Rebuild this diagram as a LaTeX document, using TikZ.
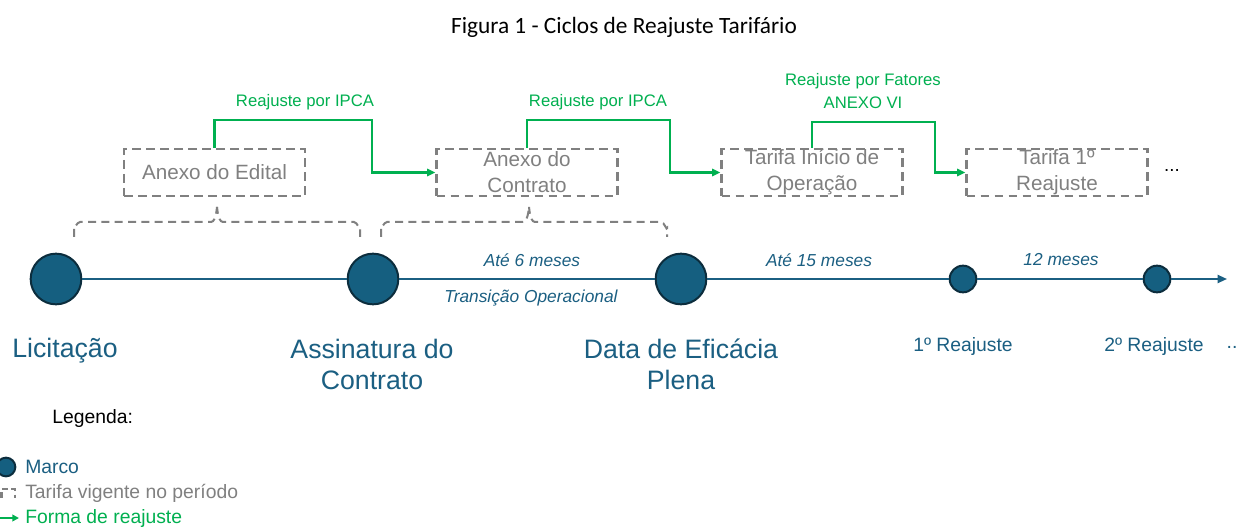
\documentclass[tikz,border=0pt]{standalone}
\usepackage{fontspec}
\setmainfont{Liberation Sans}
\newfontfamily\titlefont{Carlito}
\usetikzlibrary{arrows.meta}
\definecolor{tealtxt}{HTML}{1B5F82}
\definecolor{circfill}{HTML}{155F80}
\definecolor{circedge}{HTML}{0C2D3D}
\definecolor{grn}{HTML}{00B050}
\definecolor{gry}{HTML}{808080}
\begin{document}
\begin{tikzpicture}[x=0.75pt,y=-0.75pt,
  tarifa/.style={draw=gry, line width=1.9pt, dash pattern=on 6.5pt off 4pt,
    minimum width=135.75pt, minimum height=35.25pt, inner sep=0pt,
    text=gry, font=\fontsize{15.5}{19.5}\selectfont, align=center},
  brace/.style={draw=gry, line width=1.5pt, dash pattern=on 6pt off 4pt},
  reaj/.style={draw=grn, line width=1.6pt, -{Triangle[length=6pt,width=5.5pt]}},
  greentxt/.style={text=grn, font=\fontsize{12.5}{16}\selectfont, inner sep=0pt},
  marco/.style={circle, fill=circfill, draw=circedge, line width=1.5pt, inner sep=0pt},
  bigmarco/.style={marco, minimum size=38pt},
  smallmarco/.style={marco, minimum size=20pt},
  period/.style={text=tealtxt, font=\fontsize{13}{16}\selectfont\itshape, inner sep=0pt},
  biglabel/.style={text=tealtxt, font=\fontsize{20}{23}\selectfont, align=center, inner sep=0pt},
  smalllabel/.style={text=tealtxt, font=\fontsize{14.5}{17}\selectfont, inner sep=0pt},
  legtxt/.style={font=\fontsize{14.5}{17}\selectfont, inner sep=0pt, anchor=west}
]
\useasboundingbox[fill=white] (0,0) rectangle (1238,527);

% title
\node[font=\titlefont\fontsize{17.5}{20}\selectfont, inner sep=0pt] (title) at (624,27) {Figura 1 - Ciclos de Reajuste Tarifário};

% tariff boxes
\node[tarifa] (edital) at (214.5,172.5) {Anexo do Edital};
\node[tarifa] (contrato) at (527,172.5) {Anexo do\\Contrato};
\node[tarifa] (inicio) at (812,172.5) {Tarifa Início de\\Operação};
\node[tarifa] (primeiro) at (1057,172.5) {Tarifa 1º\\Reajuste};
\node[inner sep=0pt, font=\fontsize{14}{16}\selectfont] (dots) at (1172,171) {...};

% green adjustment arrows
\coordinate (g1) at (372,120);
\coordinate (g2) at (670,120);
\coordinate (g3) at (935,122);
\draw[reaj] (edital.north) |- (g1) |- (contrato.west);
\draw[reaj] (contrato.north) |- (g2) |- (inicio.west);
\draw[reaj] (inicio.north) |- (g3) |- (primeiro.west);
\node[greentxt] (l1) at (305,102) {Reajuste por IPCA};
\node[greentxt] (l2) at (598,102) {Reajuste por IPCA};
\node[greentxt] (l3a) at (863,81) {Reajuste por Fatores};
\node[greentxt] (l3b) at (863,103) {ANEXO VI};

% braces
\draw[brace] (74,237) -- (74,227) to[out=-90,in=180] (80,222) -- (211,222) to[out=0,in=90] (217,208);
\draw[brace] (217,208) to[out=90,in=180] (223,222) -- (354,222) to[out=0,in=-90] (360,228) -- (360,237);
\draw[brace] (381,237) -- (381,227) to[out=-90,in=180] (387,222) -- (523,222) to[out=0,in=90] (529,208);
\draw[brace] (529,208) to[out=90,in=180] (535,222) -- (661,222) to[out=0,in=-90] (667,228) -- (667,237);

% timeline
\node[bigmarco] (licit) at (56,279) {};
\node[bigmarco] (assin) at (373,279) {};
\node[bigmarco] (efic) at (681,279) {};
\node[smallmarco] (r1) at (963,279) {};
\node[smallmarco] (r2) at (1157,279) {};
\coordinate (tend) at (1227,279);
\draw[tealtxt, line width=1.5pt] (licit) -- (assin);
\draw[tealtxt, line width=1.5pt] (assin) -- (efic);
\draw[tealtxt, line width=1.5pt] (efic) -- (r1);
\draw[tealtxt, line width=1.5pt] (r1) -- (r2);
\draw[tealtxt, line width=1.5pt, -{Triangle[length=7pt,width=6pt]}] (r2) -- (tend);

% period labels
\node[period] (p1) at (532,260) {Até 6 meses};
\node[period] (p1b) at (531,298) {Transição Operacional};
\node[period] (p2) at (819,260) {Até 15 meses};
\node[period] (p3) at (1061,260) {12 meses};

% milestone labels
\node[biglabel] (tl1) at (65,351) {Licitação};
\node[biglabel, anchor=north] (tl2) at (372,339) {Assinatura do\\Contrato};
\node[biglabel, anchor=north] (tl3) at (681,339) {Data de Eficácia\\Plena};
\node[smalllabel] (tl4) at (963,347) {1º Reajuste};
\node[smalllabel] (tl5) at (1154,347) {2º Reajuste};
\node[smalllabel] (tl6) at (1232,347) {..};

% legend
\node[legtxt] (leg) at (52,418) {Legenda:};
\node[marco, minimum size=14pt] (legc) at (6,467) {};
\node[legtxt, text=tealtxt] (legm) at (25,467) {Marco};
\draw[brace, dash pattern=on 4.5pt off 2.5pt] (1.5,498) |- (15,489) -- (15,498);
\node[legtxt, text=gry] (legt) at (25,493) {Tarifa vigente no período};
\coordinate (la0) at (0,518);
\coordinate (la1) at (19,518);
\draw[reaj, -{Triangle[length=5pt,width=5pt]}] (la0) -- (la1);
\node[legtxt, text=grn] (legf) at (25,518) {Forma de reajuste};
\end{tikzpicture}
\end{document}
